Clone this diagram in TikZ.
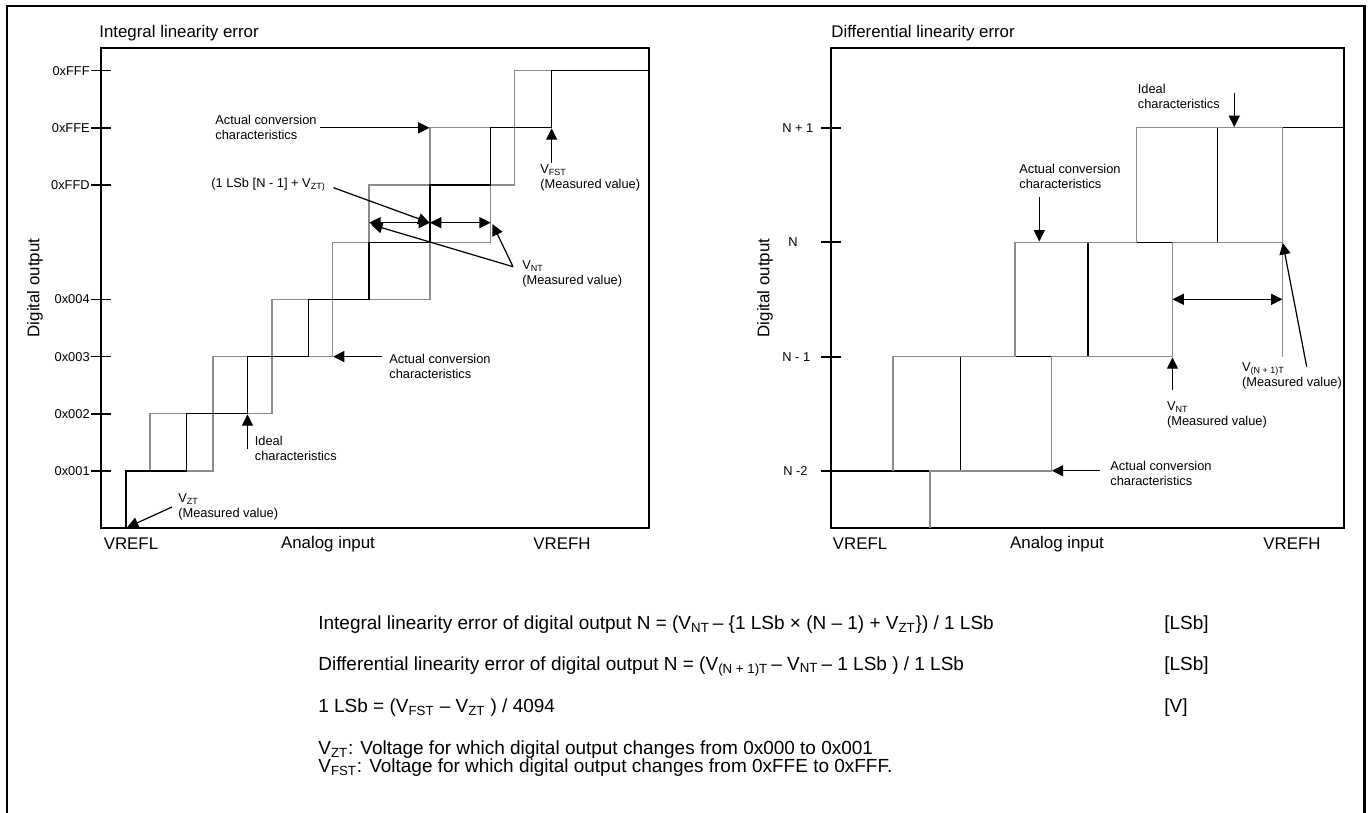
\documentclass[tikz,border=0pt]{standalone}
\usepackage{fontspec}
\setmainfont{Liberation Sans}
\usetikzlibrary{arrows.meta}

\tikzset{
  frame/.style={line width=1.7pt},
  chartbox/.style={line width=0.95pt},
  ideal/.style={line width=0.75pt, black},
  actual/.style={line width=0.75pt, black!45},
  pointer/.style={line width=0.7pt, -{Triangle[length=6.5pt,width=6.3pt]}},
  span/.style={line width=0.7pt, {Triangle[length=6.5pt,width=6.3pt]}-{Triangle[length=6.5pt,width=6.3pt]}},
  note/.style={font=\fontsize{7.3}{8.5}\selectfont, align=left, inner sep=0pt, anchor=west},
  ticklab/.style={font=\fontsize{7.3}{8.5}\selectfont, inner sep=0pt},
  axislab/.style={font=\fontsize{9.6}{11}\selectfont, inner sep=0pt},
  formula/.style={font=\fontsize{10.8}{12}\selectfont, inner sep=0pt, anchor=west}
}

\begin{document}
\begin{tikzpicture}[x=0.02cm, y=-0.02cm]
    \useasboundingbox (0,0) rectangle (1369,812);
    \draw[frame] (7,6) rectangle (1364,830);

    % Integral linearity error
    \node[axislab, anchor=west] (ilTitle) at (99,33) {Integral linearity error};
    \draw[chartbox] (101,48) rectangle (649,528);
    \foreach \y/\lab [count=\i] in {471/0x001, 413.8/0x002, 356.6/0x003, 299.4/0x004,
                                    185/0xFFD, 127.8/0xFFE, 70.6/0xFFF} {
        \draw[chartbox] (91,\y) -- (111,\y);
        \node[ticklab, anchor=east] (ilTick\i) at (90,\y) {\lab};
    }
    \node[axislab, rotate=90] (ilYlab) at (35,288) {Digital output};
    \node[axislab] (ilVrefl) at (131,544) {VREFL};
    \node[axislab] (ilAnalog) at (328,544) {Analog input};
    \node[axislab] (ilVrefh) at (562,544) {VREFH};
    % actual conversion characteristics
    \draw[actual] (150,471) -- (150,413.8) -- (213,413.8) -- (213,356.6) -- (272,356.6)
        -- (272,299.4) -- (332.5,299.4) -- (332.5,242.2) -- (369.1,242.2) -- (369.1,185)
        -- (430,185) -- (430,127.8) -- (514.6,127.8) -- (514.6,70.6) -- (551.6,70.6);
    \draw[actual] (150,471) -- (213,471) -- (213,413.8) -- (272,413.8) -- (272,356.6)
        -- (332.5,356.6) -- (332.5,299.4) -- (430,299.4) -- (430,242.2) -- (490.8,242.2)
        -- (490.8,185) -- (514.6,185) -- (514.6,127.8) -- (551.6,127.8);
    % ideal characteristics
    \draw[ideal] (126,528) -- (126,471) -- (186.7,471) -- (186.7,413.8) -- (247.5,413.8)
        -- (247.5,356.6) -- (308.3,356.6) -- (308.3,299.4) -- (369.1,299.4) -- (369.1,242.2)
        -- (430,242.2) -- (430,185) -- (490.8,185) -- (490.8,127.8) -- (551.6,127.8)
        -- (551.6,70.6) -- (649,70.6);
    % labels and pointers
    \node[note] (ilActTop) at (215,127.5) {Actual conversion\\characteristics};
    \coordinate (ilActTopFrom) at (320,127.8);
    \coordinate (ilActTopTo) at (429.5,127.8);
    \draw[pointer] (ilActTopFrom) -- (ilActTopTo);
    \node[note] (ilLsb) at (211,185) {(1 LSb [N - 1] + V\textsubscript{ZT)}};
    \coordinate (ilLsbFrom) at (333.5,187.7);
    \coordinate (ilLsbTo) at (429.5,222.7);
    \draw[pointer] (ilLsbFrom) -- (ilLsbTo);
    \coordinate (ilSpanA) at (369.1,222.7);
    \coordinate (ilSpanB) at (430,222.7);
    \coordinate (ilSpanC) at (490.8,222.7);
    \draw[span] (ilSpanA) -- (ilSpanB);
    \draw[span] (ilSpanB) -- (ilSpanC);
    \node[note] (ilVnt) at (522,274) {V\textsubscript{NT}\\(Measured value)};
    \coordinate (ilVntFrom) at (513,266.7);
    \coordinate (ilVntToA) at (371,224.5);
    \coordinate (ilVntToB) at (492.5,224);
    \draw[pointer] (ilVntFrom) -- (ilVntToA);
    \draw[pointer] (ilVntFrom) -- (ilVntToB);
    \node[note] (ilVfst) at (540,178) {V\textsubscript{FST}\\(Measured value)};
    \coordinate (ilVfstFrom) at (551.6,163);
    \coordinate (ilVfstTo) at (551.6,128.3);
    \draw[pointer] (ilVfstFrom) -- (ilVfstTo);
    \node[note] (ilActLow) at (389,366) {Actual conversion\\characteristics};
    \coordinate (ilActLowFrom) at (381.5,356.6);
    \coordinate (ilActLowTo) at (333,356.6);
    \draw[pointer] (ilActLowFrom) -- (ilActLowTo);
    \node[note] (ilIdeal) at (254.5,448.5) {Ideal\\characteristics};
    \coordinate (ilIdealFrom) at (247.5,449);
    \coordinate (ilIdealTo) at (247.5,414.3);
    \draw[pointer] (ilIdealFrom) -- (ilIdealTo);
    \node[note] (ilVzt) at (178,506.7) {V\textsubscript{ZT}\\(Measured value)};
    \coordinate (ilVztFrom) at (172,507);
    \coordinate (ilVztTo) at (127,527.5);
    \draw[pointer] (ilVztFrom) -- (ilVztTo);

    % Differential linearity error
    \node[axislab, anchor=west] (dlTitle) at (831,33) {Differential linearity error};
    \draw[chartbox] (831,48) rectangle (1344,528);
    \foreach \y/\lab/\x [count=\i] in {127.7/N + 1/782, 242.3/N/788, 356.7/N - 1/782, 471/N -2/783} {
        \draw[chartbox] (821,\y) -- (841,\y);
        \node[ticklab, anchor=west] (dlTick\i) at (\x,\y) {\lab};
    }
    \node[axislab, rotate=90] (dlYlab) at (765,288) {Digital output};
    \node[axislab] (dlVrefl) at (860,544) {VREFL};
    \node[axislab] (dlAnalog) at (1057,544) {Analog input};
    \node[axislab] (dlVrefh) at (1292,544) {VREFH};
    % ideal characteristics
    \draw[ideal] (831,471) -- (960.2,471) -- (960.2,356.7) -- (1088,356.7) -- (1088,242.3)
        -- (1217.6,242.3) -- (1217.6,127.7) -- (1344,127.7);
    % actual conversion characteristics
    \draw[actual] (893,471) -- (893,356.7) -- (1015,356.7) -- (1015,242.3) -- (1136.2,242.3)
        -- (1136.2,127.7) -- (1282.5,127.7);
    \draw[actual] (930,528) -- (930,471) -- (1051.2,471) -- (1051.2,356.7) -- (1172.5,356.7)
        -- (1172.5,242.3) -- (1282.5,242.3) -- (1282.5,127.7);
    \draw[actual] (1282.5,242.3) -- (1282.5,356.7);
    % labels and pointers
    \node[note] (dlIdeal) at (1137.5,96.3) {Ideal\\characteristics};
    \coordinate (dlIdealFrom) at (1234.3,93);
    \coordinate (dlIdealTo) at (1234.3,127);
    \draw[pointer] (dlIdealFrom) -- (dlIdealTo);
    \node[note] (dlActTop) at (1019,176.3) {Actual conversion\\characteristics};
    \coordinate (dlActTopFrom) at (1039.3,196.7);
    \coordinate (dlActTopTo) at (1039.3,241.6);
    \draw[pointer] (dlActTopFrom) -- (dlActTopTo);
    \coordinate (dlSpanA) at (1172.5,299.3);
    \coordinate (dlSpanB) at (1282.5,299.3);
    \draw[span] (dlSpanA) -- (dlSpanB);
    \node[note] (dlVn1t) at (1241.7,376) {V\textsubscript{(N + 1)T}\\(Measured value)};
    \coordinate (dlVn1tFrom) at (1306.7,366.7);
    \coordinate (dlVn1tTo) at (1282.8,243);
    \draw[pointer] (dlVn1tFrom) -- (dlVn1tTo);
    \node[note] (dlVnt) at (1166.7,415) {V\textsubscript{NT}\\(Measured value)};
    \coordinate (dlVntFrom) at (1172.5,390);
    \coordinate (dlVntTo) at (1172.5,357.3);
    \draw[pointer] (dlVntFrom) -- (dlVntTo);
    \node[note] (dlActLow) at (1110,473.7) {Actual conversion\\characteristics};
    \coordinate (dlActLowFrom) at (1100,470.7);
    \coordinate (dlActLowTo) at (1051.8,470.7);
    \draw[pointer] (dlActLowFrom) -- (dlActLowTo);

    % Formulas
    \node[formula] (fInl) at (318,625) {Integral linearity error of digital output N = (V\textsubscript{NT}\,– \{1 LSb × (N – 1) + V\textsubscript{ZT}\}) / 1 LSb};
    \node[formula] (fInlUnit) at (1164,625) {[LSb]};
    \node[formula] (fDnl) at (318,666) {Differential linearity error of digital output N = (V\textsubscript{(N + 1)T}\,– V\textsubscript{NT}\,– 1 LSb ) / 1 LSb};
    \node[formula] (fDnlUnit) at (1164,666) {[LSb]};
    \node[formula] (fLsb) at (318,708) {1 LSb = (V\textsubscript{FST} – V\textsubscript{ZT} ) / 4094};
    \node[formula] (fLsbUnit) at (1164,708) {[V]};
    \node[formula] (fVzt) at (318,750) {V\textsubscript{ZT}: Voltage for which digital output changes from 0x000 to 0x001};
    \node[formula] (fVfst) at (318,768) {V\textsubscript{FST}: Voltage for which digital output changes from 0xFFE to 0xFFF.};
\end{tikzpicture}
\end{document}
